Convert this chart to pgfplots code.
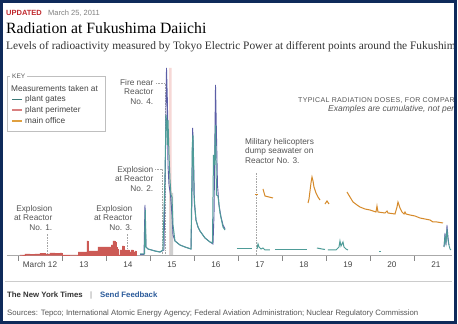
\documentclass[border=0pt]{standalone}
\usepackage{pgfplots}
\pgfplotsset{compat=1.18}
\usepackage{fontspec}
\setmainfont{Liberation Sans}
\newfontfamily\seriffont{Liberation Serif}
\definecolor{navy}{HTML}{0F2A5A}
\definecolor{tealc}{HTML}{4E9C98}
\definecolor{purplec}{HTML}{5B5EA6}
\definecolor{redc}{HTML}{CC5A55}
\definecolor{orangec}{HTML}{D68A2A}
\definecolor{pinkband}{HTML}{F6D8D6}
\definecolor{greyband}{HTML}{CFCFCF}
\definecolor{txtgrey}{HTML}{555555}
\definecolor{labgrey}{HTML}{444444}
\definecolor{axisgrey}{HTML}{AAAAAA}
\definecolor{updred}{HTML}{C0282D}
\definecolor{linkblue}{HTML}{2A5A9A}
\definecolor{keyteal}{HTML}{3D7A78}
\definecolor{keypink}{HTML}{D98080}
\definecolor{keyorange}{HTML}{E0A040}
\begin{document}
\begin{tikzpicture}[x=1pt,y=1pt]
\useasboundingbox (0,0) rectangle (458,324);
\fill[white] (0,0) rectangle (458,324);
\begin{scope}
\clip (3,3) rectangle (453,321);
% header
\node[anchor=base west, inner sep=0, font=\bfseries\fontsize{7.5}{9}\selectfont, text=updred] at (6,308) {UPDATED};
\node[anchor=base west, inner sep=0, font=\fontsize{7.5}{9}\selectfont, text=gray] at (48,308) {March 25, 2011};
\node[anchor=base west, inner sep=0, font=\seriffont\fontsize{15.7}{18}\selectfont, text=black] at (6,290) {Radiation at Fukushima Daiichi};
\node[anchor=base west, inner sep=0, font=\seriffont\fontsize{11.4}{13}\selectfont, text=black!80] at (6,274) {Levels of radioactivity measured by Tokyo Electric Power at different points around the Fukushima Daiichi plant.};
% comparison header
\node[anchor=base west, inner sep=0, font=\fontsize{7}{8}\selectfont\addfontfeature{LetterSpace=5}, text=txtgrey] at (298,221) {TYPICAL RADIATION DOSES, FOR COMPARISON};
\node[anchor=base west, inner sep=0, font=\itshape\fontsize{8.5}{10}\selectfont, text=txtgrey] at (328,212) {Examples are cumulative, not per hour.};

\begin{axis}[
 at={(7pt,69pt)}, anchor=south west, scale only axis, width=445pt, height=200pt,
 xmin=11.75, xmax=21.864, ymin=0, ymax=200,
 axis x line*=bottom, hide y axis, ytick=\empty,
 x axis line style={draw=axisgrey, line width=0.8pt, -},
 xtick={12.5,13.5,...,21.5}, xticklabels={March 12,13,14,15,16,17,18,19,20,21},
 major tick length=0pt,
 minor xtick={12,13,...,21},
 minor tick length=6pt, tick align=outside,
 minor tick style={draw=axisgrey!80!black, line width=0.8pt},
 xticklabel style={font=\fontsize{8.2}{9}\selectfont, text=labgrey, anchor=base, yshift=-12.5pt},
 clip=false,
]
% annotation leaders
\draw[densely dotted, gray!70, line width=0.6pt] (axis cs:12.659,0) -- (axis cs:12.659,22);
\draw[densely dotted, gray!70, line width=0.6pt] (axis cs:14.477,0) -- (axis cs:14.477,22);
\draw[densely dotted, gray!70, line width=0.6pt] (axis cs:15.114,86) -- (axis cs:15.273,86) -- (axis cs:15.273,0);
\draw[densely dotted, gray!70, line width=0.6pt] (axis cs:15.136,172) -- (axis cs:15.341,172) -- (axis cs:15.341,0);
\draw[densely dotted, gray!70, line width=0.6pt] (axis cs:17.409,0) -- (axis cs:17.409,83);
% bands
\addplot[fill=pinkband, draw=none] coordinates {(15.432,0)(15.432,187)(15.489,187)(15.489,0)} \closedcycle;
\addplot[fill=greyband, draw=none] coordinates {(15.445,0)(15.445,62)(15.523,62)(15.523,0)} \closedcycle;
% plant perimeter
\addplot[const plot, fill=redc, draw=redc, line width=0.4pt] coordinates {
(12.045,0)(12.159,1)(12.273,0.5)(12.386,1)(12.5,1.5)(12.614,1)(12.727,2)(12.841,1.5)(12.955,2)(13.0,0)
(13.341,0)(13.364,3)(13.545,3)(13.568,14)(13.591,4)(13.795,4)(13.818,8)(14.068,8)(14.114,10)(14.159,14)(14.205,13)(14.227,8)(14.25,6)(14.273,0)
(14.295,0)(14.318,5)(14.364,9)(14.409,5)(14.455,3)(14.477,5)(14.523,3)(14.568,5)(14.614,3)(14.659,4)(14.682,0)} \closedcycle;
% plant gates (two traces)
\addplot[purplec, line width=0.9pt] coordinates {
(14.773,0.5)(14.864,0.5)(14.886,50)(14.909,8)(14.955,6)(15.114,4)(15.227,3)(15.318,5)(15.352,100)(15.375,187)(15.398,150)(15.409,90)(15.432,70)(15.466,60)(15.5,40)(15.523,20)(15.568,14)(15.682,10)(15.795,8)(15.932,6)(15.955,60)(15.970,127)(15.989,100)(16.011,50)(16.045,35)(16.091,28)(16.136,24)(16.25,17)(16.364,13)(16.432,11)(16.455,40)(16.489,170)(16.511,120)(16.534,70)(16.568,50)(16.614,38)(16.659,30)(16.705,26)};
\addplot[tealc, line width=1pt] coordinates {
(14.773,1)(14.875,1)(14.893,45)(14.909,8)(14.955,6)(15.114,4)(15.227,3)(15.295,5)(15.341,80)(15.364,140)(15.382,130)(15.398,110)(15.409,135)(15.432,100)(15.455,75)(15.477,60)(15.5,58)(15.523,30)(15.568,14)(15.682,10)(15.795,8)(15.932,6)(15.961,110)(15.977,120)(16.0,60)(16.045,35)(16.091,28)(16.136,24)(16.25,17)(16.364,13)(16.420,12)(16.443,100)(16.466,90)(16.489,130)(16.511,60)(16.545,59)(16.591,42)(16.659,28)(16.705,25)};
\addplot[tealc, line width=1pt] coordinates {(16.977,6)(17.318,6)};
\addplot[tealc, line width=1pt] coordinates {(17.432,6)(17.455,11)(17.477,8)(17.523,6)(17.568,7)(17.614,5)(17.727,5)};
\addplot[tealc, line width=1pt] coordinates {(17.841,5)(18.568,5)};
\addplot[tealc, line width=1pt] coordinates {(18.795,7)(18.909,6)(18.977,5.5)};
\addplot[tealc, line width=1pt] coordinates {(19.045,5)(19.227,5)(19.295,8)(19.318,14)(19.341,9)(19.386,13)(19.409,8)(19.455,6)(19.5,5)};
\addplot[tealc, line width=1pt] coordinates {(20.205,3)(20.25,3)};
\addplot[purplec, line width=0.8pt] coordinates {(21.682,8)(21.705,22)(21.727,10)(21.75,30)(21.773,18)(21.795,10)};
\addplot[tealc, line width=0.9pt] coordinates {(21.682,8)(21.705,18)(21.727,12)(21.75,26)(21.773,15)(21.795,10)(21.818,6)(21.841,5)};
% main office
\addplot[orangec, line width=1pt] coordinates {(17.386,60)(17.455,60)};
\addplot[orangec, line width=1pt] coordinates {(17.568,66)(17.614,59)(17.705,58)(17.795,57)};
\addplot[orangec, line width=1pt] coordinates {(18.591,52)(18.614,56)(18.659,72)(18.682,78)(18.705,74)(18.727,68)(18.773,62)(18.818,58)(18.864,55)};
\addplot[orangec, line width=1pt] coordinates {(18.977,51)(19.023,54)(19.068,51)};
\addplot[orangec, line width=1pt] coordinates {(19.477,63)(19.545,58)(19.614,53)(19.705,50)(19.773,48)(19.886,46)(20.0,45)(20.136,43)(20.159,49)(20.182,43)(20.341,42)(20.386,44)(20.409,42)(20.568,41)(20.614,48)(20.636,53)(20.682,47)(20.727,43)(20.773,41)(20.795,43)(20.818,41)(20.909,40)(21.023,39)(21.136,37)(21.25,36)(21.364,35)(21.432,33)(21.523,33)(21.659,32)};
\end{axis}

% annotations
\begin{scope}[every node/.style={inner sep=0, font=\fontsize{8.3}{9.5}\selectfont, text=txtgrey}]
\node[anchor=east, align=right] at (153.5,232) {Fire near\\Reactor\\No. 4.};
\node[anchor=east, align=right] at (153.5,145) {Explosion\\at Reactor\\No. 2.};
\node[anchor=east, align=right] at (52.5,106) {Explosion\\at Reactor\\No. 1.};
\node[anchor=east, align=right] at (132.5,106) {Explosion\\at Reactor\\No. 3.};
\node[anchor=west, align=left] at (245,173) {Military helicopters\\dump seawater on\\Reactor No. 3.};
\end{scope}

% key
\draw[gray!50, line width=0.8pt] (7,248) rectangle (105,193);
\node[anchor=west, fill=white, inner xsep=2pt, inner ysep=0pt, font=\fontsize{6.5}{8}\selectfont, text=txtgrey] at (10,248) {KEY};
\node[anchor=west, inner sep=0, font=\fontsize{8.3}{9.5}\selectfont, text=labgrey] at (11,235.7) {Measurements taken at};
\draw[keyteal, line width=1pt] (12,224.7) -- (22,224.7);
\node[anchor=west, inner sep=0, font=\fontsize{8.3}{9.5}\selectfont, text=labgrey] at (25,224.7) {plant gates};
\draw[keypink, line width=1.2pt] (12,214) -- (22,214);
\node[anchor=west, inner sep=0, font=\fontsize{8.3}{9.5}\selectfont, text=labgrey] at (25,214) {plant perimeter};
\draw[keyorange, line width=1.2pt] (12,203) -- (22,203);
\node[anchor=west, inner sep=0, font=\fontsize{8.3}{9.5}\selectfont, text=labgrey] at (25,203) {main office};

% footer
\draw[gray!40, line width=0.8pt] (5,43) -- (452,43);
\node[anchor=base west, inner sep=0, font=\bfseries\fontsize{7.8}{9}\selectfont, text=black!80] at (7,26) {The New York Times};
\node[anchor=base west, inner sep=0, font=\fontsize{7.8}{9}\selectfont, text=gray] at (90,26) {|};
\node[anchor=base west, inner sep=0, font=\bfseries\fontsize{7.8}{9}\selectfont, text=linkblue] at (100,26) {Send Feedback};
\node[anchor=base west, inner sep=0, font=\fontsize{7.8}{9}\selectfont, text=txtgrey] at (7,9) {Sources: Tepco; International Atomic Energy Agency; Federal Aviation Administration; Nuclear Regulatory Commission};
\end{scope}
\draw[navy, line width=3pt] (1.5,1.5) rectangle (455,322.5);
\end{tikzpicture}
\end{document}
